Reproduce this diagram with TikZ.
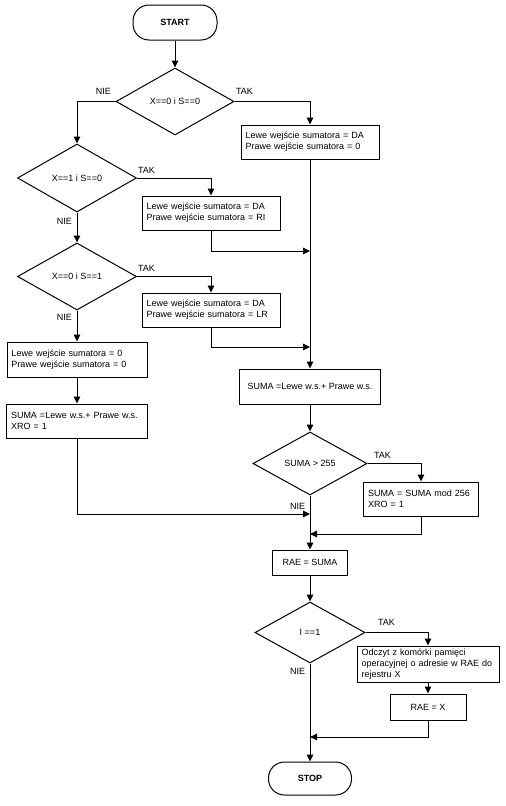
\documentclass[tikz,border=0pt]{standalone}
\usepackage{fontspec}
\setmainfont{Liberation Sans}
\usetikzlibrary{shapes.geometric,arrows.meta}
\begin{document}
\begin{tikzpicture}[x=1pt,y=-1pt,
  every node/.style={font=\fontsize{9}{11}\selectfont},
  arr/.style={line width=1pt,-{Triangle[length=7pt,width=6.5pt]}},
  term/.style={draw,line width=1pt,rectangle,rounded corners=16pt,inner sep=0pt,font=\fontsize{9}{11}\selectfont\bfseries},
  proc/.style={draw,line width=1pt,rectangle,inner sep=0pt},
  txtbox/.style={proc,align=left,inner xsep=4.5pt,text width=#1},
  dec/.style={draw,line width=1pt,diamond,inner sep=0pt,aspect=1.7},
  lab/.style={inner sep=0pt}]
\useasboundingbox (0,0) rectangle (506,806);
% nodes
\node[term,minimum width=84pt,minimum height=35pt] (start) at (175,22.5) {START};
\node[dec,minimum width=118pt,minimum height=67pt] (d1) at (175,101.5) {X==0 i S==0};
\node[txtbox=129pt,minimum height=34pt] (b1) at (310,142) {Lewe wejście sumatora = DA\\Prawe wejście sumatora = 0};
\node[dec,minimum width=119pt,minimum height=68pt] (d2) at (77,178) {X==1 i S==0};
\node[txtbox=129pt,minimum height=34pt] (b2) at (211,213) {Lewe wejście sumatora = DA\\Prawe wejście sumatora = RI};
\node[dec,minimum width=119pt,minimum height=67pt] (d3) at (77,276.5) {X==0 i S==1};
\node[txtbox=129pt,minimum height=34pt] (b3) at (211,310) {Lewe wejście sumatora = DA\\Prawe wejście sumatora = LR};
\node[txtbox=131pt,minimum height=35pt] (b4) at (77,359.5) {Lewe wejście sumatora = 0\\Prawe wejście sumatora = 0};
\node[txtbox=132pt,minimum height=34pt] (b5) at (77,421) {SUMA =Lewe w.s.+ Prawe w.s.\\XRO = 1};
\node[proc,minimum width=141pt,minimum height=35pt] (b6) at (310,386.5) {SUMA =Lewe w.s.+ Prawe w.s.};
\node[dec,minimum width=114pt,minimum height=63pt] (d4) at (310,463.5) {SUMA > 255};
\node[txtbox=106pt,minimum height=34pt] (b7) at (421,499) {SUMA = SUMA mod 256\\XRO = 1};
\node[proc,minimum width=75pt,minimum height=25pt] (b9) at (310,562.5) {RAE = SUMA};
\node[dec,minimum width=110pt,minimum height=61pt] (d5) at (310,632.5) {I ==1};
\node[txtbox=133pt,minimum height=36pt] (b10) at (428,664) {Odczyt z komórki pamięci\\operacyjnej o adresie w RAE do\\rejestru X};
\node[proc,minimum width=76pt,minimum height=26pt] (b11) at (428,707) {RAE = X};
\node[term,minimum width=83pt,minimum height=33pt] (stop) at (310,778.5) {STOP};
% junctions
\coordinate (j1) at (310,251);
\coordinate (j2) at (310,347);
\coordinate (j3) at (310,514);
\coordinate (j4) at (310,534);
\coordinate (j5) at (310,737);
% labels
\node[lab] (l1) at (103.5,91) {NIE};
\node[lab] (l2) at (244.5,91) {TAK};
\node[lab] (l3) at (146.5,170) {TAK};
\node[lab] (l4) at (64.5,221) {NIE};
\node[lab] (l5) at (146.5,268) {TAK};
\node[lab] (l6) at (64.5,317) {NIE};
\node[lab] (l7) at (382.5,455) {TAK};
\node[lab] (l8) at (297.5,506.5) {NIE};
\node[lab] (l9) at (386.5,622.5) {TAK};
\node[lab] (l10) at (297.5,671.5) {NIE};
% connectors
\draw[arr] (start) -- (d1);
\draw[arr] (d1.west) -| (d2.north);
\draw[arr] (d1.east) -| (b1.north);
\draw[arr] (b1.south) -- (b6.north);
\draw[arr] (d2.east) -| (b2.north);
\draw[arr] (b2.south) |- (j1);
\draw[arr] (d2.south) -- (d3.north);
\draw[arr] (d3.east) -| (b3.north);
\draw[arr] (b3.south) |- (j2);
\draw[arr] (d3.south) -- (b4.north);
\draw[arr] (b4.south) -- (b5.north);
\draw[arr] (b5.south) |- (j3);
\draw[arr] (b6.south) -- (d4.north);
\draw[arr] (d4.east) -| (b7.north);
\draw[arr] (b7.south) |- (j4);
\draw[arr] (d4.south) -- (b9.north);
\draw[arr] (b9.south) -- (d5.north);
\draw[arr] (d5.east) -| (b10.north);
\draw[arr] (b10.south) -- (b11.north);
\draw[arr] (b11.south) |- (j5);
\draw[arr] (d5.south) -- (stop.north);
\end{tikzpicture}
\end{document}
